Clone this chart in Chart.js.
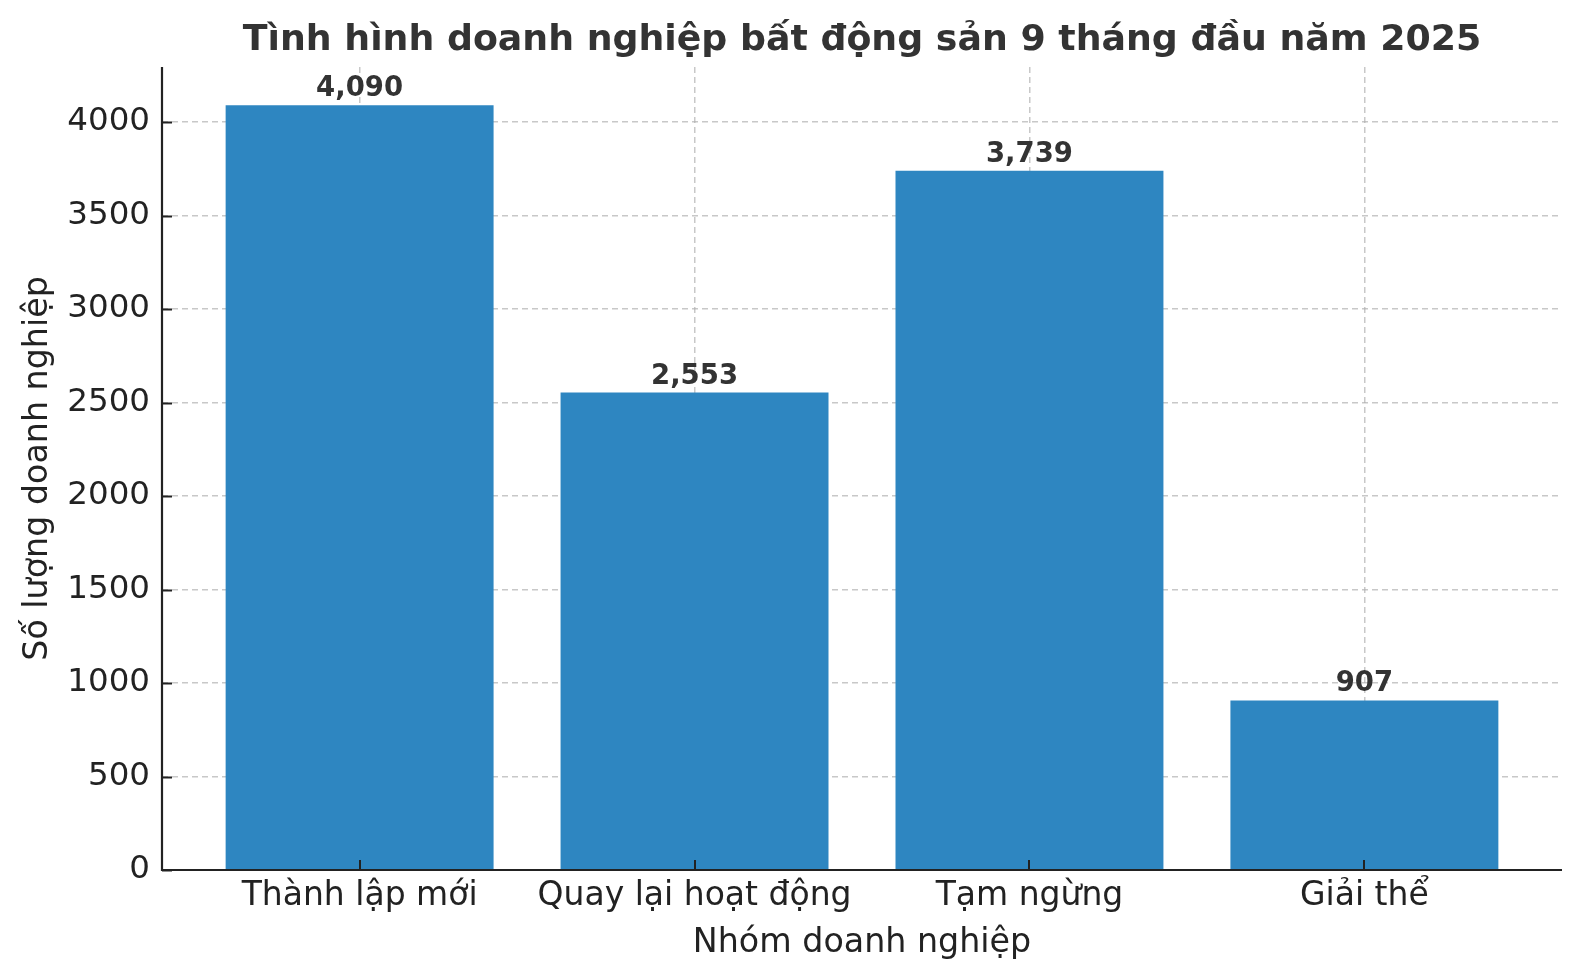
<!DOCTYPE html>
<html>
<head>
<meta charset="utf-8">
<script src="https://cdn.jsdelivr.net/npm/chart.js@4.4.1/dist/chart.umd.min.js"></script>
<style>
html,body{margin:0;padding:0;background:#fff;}
#wrap{width:1580px;height:980px;position:relative;}
</style>
</head>
<body>
<div id="wrap"><canvas id="c" width="1580" height="980"></canvas></div>
<script>
const categories = ["Thành lập mới", "Quay lại hoạt động", "Tạm ngừng", "Giải thể"];
const values = [4090, 2553, 3739, 907];
const yTicks = [0, 500, 1000, 1500, 2000, 2500, 3000, 3500, 4000];
const titleText = "Tình hình doanh nghiệp bất động sản 9 tháng đầu năm 2025";
const xTitle = "Nhóm doanh nghiệp";
const yTitle = "Số lượng doanh nghiệp";

const FONT = "'DejaVu Sans', sans-serif";
const ymax = Math.max(...values) * 1.05;
const xmin = -0.4 - 0.19, xmax = 3.4 + 0.19;

const valueLabels = {
  id: 'valueLabels',
  afterDatasetsDraw(chart) {
    const ctx = chart.ctx;
    const meta = chart.getDatasetMeta(0);
    ctx.save();
    ctx.font = "bold 27.5px " + FONT;
    ctx.fillStyle = '#333333';
    ctx.textAlign = 'center';
    ctx.textBaseline = 'alphabetic';
    meta.data.forEach((bar, i) => {
      ctx.fillText(values[i].toLocaleString('en-US'), bar.x, bar.y - 9);
    });
    ctx.restore();
  }
};

const inwardTicks = {
  id: 'inwardTicks',
  afterDraw(chart) {
    const ctx = chart.ctx;
    const xs = chart.scales.x, ys = chart.scales.y;
    const ca = chart.chartArea;
    ctx.save();
    ctx.strokeStyle = '#222222';
    ctx.lineWidth = 2;
    ctx.beginPath();
    yTicks.forEach(v => {
      const py = Math.round(ys.getPixelForValue(v)) + 0.5;
      ctx.moveTo(ca.left, py); ctx.lineTo(ca.left + 10, py);
    });
    categories.forEach((c, i) => {
      const px = Math.round(xs.getPixelForValue(i));
      ctx.moveTo(px, ca.bottom); ctx.lineTo(px, ca.bottom - 10);
    });
    ctx.stroke();
    ctx.lineWidth = 2.2;
    ctx.beginPath();
    ctx.moveTo(ca.left, ca.top); ctx.lineTo(ca.left, ca.bottom);
    ctx.lineTo(ca.right, ca.bottom);
    ctx.stroke();
    ctx.restore();
  }
};

new Chart(document.getElementById('c'), {
  type: 'bar',
  data: {
    datasets: [{
      data: values.map((v, i) => ({x: i, y: v})),
      backgroundColor: '#2E86C1',
      borderWidth: 0,
      barPercentage: 0.8,
      categoryPercentage: 1.0
    }]
  },
  options: {
    responsive: false,
    animation: false,
    devicePixelRatio: 1,
    layout: {padding: {left: 0, right: 18, top: 0, bottom: 0}},
    plugins: {
      legend: {display: false},
      tooltip: {enabled: false},
      title: {
        display: true,
        text: titleText,
        fullSize: false,
        color: '#333333',
        font: {family: FONT, size: 36.3, weight: 'bold'},
        padding: {top: 19, bottom: 4.4}
      }
    },
    scales: {
      x: {
        type: 'linear',
        min: xmin, max: xmax,
        offset: false,
        z: 1,
        afterBuildTicks(s) { s.ticks = categories.map((c, i) => ({value: i})); },
        afterFit(s) { s.height = 110; },
        ticks: {
          autoSkip: false,
          maxRotation: 0,
          color: '#222222',
          font: {family: FONT, size: 33},
          padding: 7,
          callback: (v) => categories[v]
        },
        grid: {
          offset: false,
          drawTicks: false,
          color: 'rgba(176,176,176,0.7)',
          lineWidth: 1.5,
          tickLength: 0
        },
        border: {display: false, dash: [6, 4]},
        title: {
          display: true, text: xTitle, color: '#222222',
          font: {family: FONT, size: 33.3},
          padding: {top: 0, bottom: 17}
        }
      },
      y: {
        type: 'linear',
        min: 0, max: ymax,
        z: 1,
        afterBuildTicks(s) { s.ticks = yTicks.map(v => ({value: v})); },
        afterFit(s) { s.width = 162; },
        ticks: {
          color: '#222222',
          font: {family: FONT, size: 32.5},
          padding: 12,
          callback: (v) => String(v)
        },
        grid: {
          drawTicks: false,
          color: 'rgba(176,176,176,0.7)',
          lineWidth: 1.5,
          tickLength: 0
        },
        border: {display: false, dash: [6, 4]},
        title: {
          display: true, text: yTitle, color: '#222222',
          font: {family: FONT, size: 33.3},
          padding: {top: 18, bottom: 0}
        }
      }
    }
  },
  plugins: [valueLabels, inwardTicks]
});
</script>
</body>
</html>
